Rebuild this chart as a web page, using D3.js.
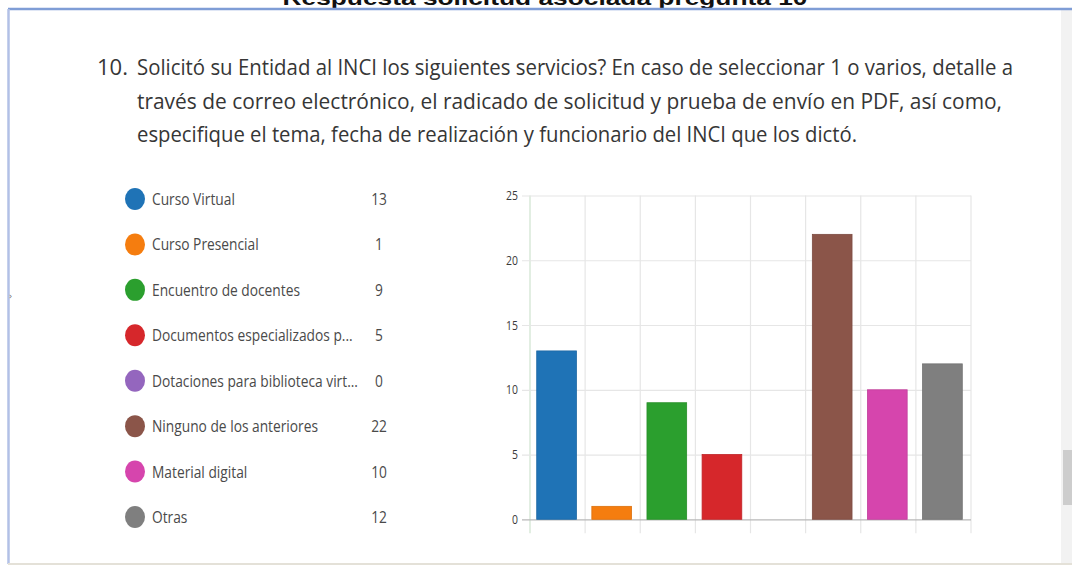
<!DOCTYPE html>
<html>
<head>
<meta charset="utf-8">
<script src="https://cdn.jsdelivr.net/npm/d3@7"></script>
<style>
  body { margin: 0; background: #fff; }
  svg { display: block; }
</style>
</head>
<body>
<div id="chart"></div>
<script>
// data
const categories = ["Curso Virtual", "Curso Presencial", "Encuentro de docentes",
  "Documentos especializados p...", "Dotaciones para biblioteca virt...",
  "Ninguno de los anteriores", "Material digital", "Otras"];
const values = [13, 1, 9, 5, 0, 22, 10, 12];
const colors = ["#1f73b6", "#f57d0f", "#2b9f2e", "#d6272b", "#9466be", "#8b5549", "#d645ad", "#7f7f7f"];
const yTicks = [0, 5, 10, 15, 20, 25];
const pageTitle = "Respuesta solicitud asociada pregunta 10";
const questionNum = "10.";
const questionLines = [
  "Solicitó su Entidad al INCI los siguientes servicios? En caso de seleccionar 1 o varios, detalle a",
  "través de correo electrónico, el radicado de solicitud y prueba de envío en PDF, así como,",
  "especifique el tema, fecha de realización y funcionario del INCI que los dictó."
];
const questionWidths = [876, 865, 720];

const W = 1072, H = 566;
const svg = d3.select("#chart").append("svg")
    .attr("width", W)
    .attr("height", H);

// page frame
svg.append("text")
    .attr("x", 545).attr("y", 5)
    .attr("text-anchor", "middle")
    .attr("font-family", "Liberation Sans, Arial, sans-serif")
    .attr("font-weight", "bold")
    .attr("font-size", 20)
    .attr("textLength", 525)
    .attr("lengthAdjust", "spacingAndGlyphs")
    .attr("fill", "#111")
    .text(pageTitle);

svg.append("rect")
    .attr("x", 1061).attr("y", 10).attr("width", 11).attr("height", 553)
    .attr("fill", "#f2f2f2");
svg.append("rect")
    .attr("x", 1063).attr("y", 450).attr("width", 9).attr("height", 55)
    .attr("fill", "#cdcdcd");
svg.append("line")
    .attr("x1", 8).attr("x2", W).attr("y1", 9).attr("y2", 9)
    .attr("stroke", "#7f9dd6").attr("stroke-width", 2.5);
svg.append("line")
    .attr("x1", 8.5).attr("x2", 8.5).attr("y1", 9).attr("y2", 564)
    .attr("stroke", "#b2c0e6").attr("stroke-width", 2.5);
svg.append("line")
    .attr("x1", 8).attr("x2", W).attr("y1", 564).attr("y2", 564)
    .attr("stroke", "#e4e1d8").attr("stroke-width", 2);
svg.append("text")
    .attr("x", 9).attr("y", 299)
    .attr("font-family", "DejaVu Sans, sans-serif")
    .attr("font-size", 8)
    .attr("fill", "#666")
    .text("›");

// question text
const qFont = "Open Sans, Noto Sans, sans-serif";
const q = svg.append("g");
q.append("text")
    .attr("x", 97).attr("y", 75)
    .attr("font-family", qFont).attr("font-size", 21.5)
    .attr("textLength", 31)
    .attr("lengthAdjust", "spacingAndGlyphs")
    .attr("fill", "#363636")
    .text(questionNum);
q.selectAll("text.ql")
  .data(questionLines)
  .join("text")
    .attr("class", "ql")
    .attr("x", 137)
    .attr("y", (d, i) => 75 + i * 33.5)
    .attr("font-family", qFont).attr("font-size", 21.5)
    .attr("textLength", (d, i) => questionWidths[i])
    .attr("lengthAdjust", "spacingAndGlyphs")
    .attr("fill", "#363636")
    .text(d => d);

// legend
const legFont = "Open Sans, Noto Sans, sans-serif";
const ly = d3.scalePoint()
    .domain(categories)
    .range([199, 517]);
const legend = svg.append("g");
const rows = legend.selectAll("g.row")
  .data(categories)
  .join("g")
    .attr("class", "row");
rows.append("ellipse")
    .attr("cx", 135)
    .attr("cy", d => ly(d))
    .attr("rx", 10).attr("ry", 11)
    .attr("fill", (d, i) => colors[i]);
const labels = rows.append("text")
    .attr("font-family", legFont).attr("font-size", 16)
    .attr("fill", "#4a4a4a")
    .text(d => d);
const legScale = 201 / labels.nodes()[3].getComputedTextLength();
labels.attr("transform", d => `translate(152, ${ly(d) + 6}) scale(${legScale}, 1)`);
rows.append("text")
    .attr("transform", d => `translate(379, ${ly(d) + 6}) scale(${legScale}, 1)`)
    .attr("text-anchor", "middle")
    .attr("font-family", legFont).attr("font-size", 16)
    .attr("fill", "#4a4a4a")
    .text((d, i) => values[i]);

// bar chart
const x = d3.scaleBand()
    .domain(categories)
    .range([530, 971])
    .paddingInner(0.28)
    .paddingOuter(0.14);
const y = d3.scaleLinear()
    .domain([0, 25])
    .range([519.3, 195.5]);

const half = x.step() * x.paddingInner() / 2;
const bounds = categories.map(c => x(c) - half).concat([x(categories[categories.length - 1]) + x.bandwidth() + half]);

svg.append("g")
  .selectAll("line")
  .data(bounds)
  .join("line")
    .attr("x1", d => d).attr("x2", d => d)
    .attr("y1", y(25)).attr("y2", y(0) + 14)
    .attr("stroke", (d, i) => i === 0 ? "#cfe3cf" : "#e6e6e6")
    .attr("stroke-width", 1.2);

const yAxis = svg.append("g")
    .attr("transform", "translate(530,0)")
    .call(d3.axisLeft(y).tickValues(yTicks).tickSize(-441).tickPadding(12));
yAxis.select(".domain").remove();
yAxis.selectAll(".tick line")
    .attr("x1", -8)
    .attr("stroke", d => d === 0 ? "#b8b8b8" : "#e6e6e6")
    .attr("stroke-width", 1.2);
yAxis.selectAll(".tick text")
    .attr("font-family", legFont)
    .attr("font-size", 13)
    .attr("fill", "#3a3a3a")
    .attr("transform", "scale(0.8,1)")
    .attr("x", -12 / 0.8);

svg.append("g")
  .selectAll("rect")
  .data(values)
  .join("rect")
    .attr("x", (d, i) => x(categories[i]) - 1)
    .attr("y", d => y(d))
    .attr("width", x.bandwidth())
    .attr("height", d => y(0) - y(d))
    .attr("fill", (d, i) => colors[i])
    .attr("stroke", (d, i) => d3.color(colors[i]).darker(0.3))
    .attr("stroke-width", 0.8);
</script>
</body>
</html>
